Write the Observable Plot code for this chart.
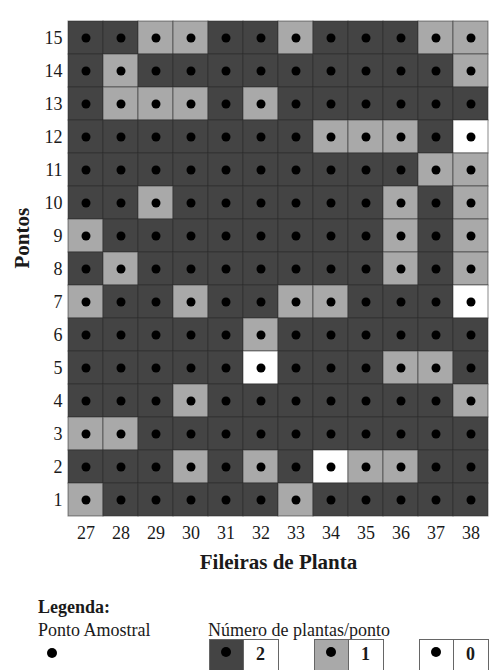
<!DOCTYPE html>
<html>
<head>
<meta charset="utf-8">
<script src="https://cdn.jsdelivr.net/npm/d3@7"></script>
<script src="https://cdn.jsdelivr.net/npm/@observablehq/plot@0.6"></script>
<style>
  body { margin: 0; background: #fff; }
  #wrap { position: relative; width: 489px; height: 670px; overflow: hidden; font-family: "Liberation Serif", "DejaVu Serif", serif; color: #1a1a1a; }
  .lg { position: absolute; font-size: 18px; line-height: 1; white-space: nowrap; }
  .box { position: absolute; box-sizing: border-box; border: 1px solid #666; height: 36px; top: 639px; }
  .dot { position: absolute; width: 10px; height: 10px; border-radius: 50%; background: #000; }
</style>
</head>
<body>
<div id="wrap"></div>
<script>
// Columns (plant rows) and sample points
const fileiras = [27, 28, 29, 30, 31, 32, 33, 34, 35, 36, 37, 38];
const pontos = [15, 14, 13, 12, 11, 10, 9, 8, 7, 6, 5, 4, 3, 2, 1];
// Number of plants per point, one row per "ponto" (15 down to 1), columns 27..38
const plantas = [
  [2,2,1,1,2,2,1,2,2,2,1,1], // 15
  [2,1,2,2,2,2,2,2,2,2,2,1], // 14
  [2,1,1,1,2,1,2,2,2,2,2,2], // 13
  [2,2,2,2,2,2,2,1,1,1,2,0], // 12
  [2,2,2,2,2,2,2,2,2,2,1,1], // 11
  [2,2,1,2,2,2,2,2,2,1,2,1], // 10
  [1,2,2,2,2,2,2,2,2,1,2,1], // 9
  [2,1,2,2,2,2,2,2,2,1,2,1], // 8
  [1,2,2,1,2,2,1,1,2,2,2,0], // 7
  [2,2,2,2,2,1,2,2,2,2,2,2], // 6
  [2,2,2,2,2,0,2,2,2,1,1,2], // 5
  [2,2,2,1,2,2,2,2,2,2,2,1], // 4
  [1,1,2,2,2,2,2,2,2,2,2,2], // 3
  [2,2,2,1,2,1,2,0,1,1,2,2], // 2
  [1,2,2,2,2,2,1,2,2,2,2,2]  // 1
];
const niveis = [2, 1, 0];
const cores = ["#444444", "#a9a9a9", "#ffffff"];

const cells = [];
pontos.forEach((p, i) => fileiras.forEach((f, j) => cells.push({fileira: f, ponto: p, n: plantas[i][j]})));

const chart = Plot.plot({
  width: 489,
  height: 580,
  marginTop: 17,
  marginLeft: 68,
  marginRight: 1,
  marginBottom: 61,
  style: {fontFamily: "Liberation Serif, serif", fontSize: "18px", color: "#1a1a1a", background: "#fff"},
  x: {type: "band", domain: fileiras, padding: 0, label: null},
  y: {type: "band", domain: pontos, padding: 0, label: null},
  color: {type: "ordinal", domain: niveis, range: cores},
  marks: [
    Plot.cell(cells, {x: "fileira", y: "ponto", fill: "n", stroke: "#2a2a2a", strokeOpacity: 0.55, strokeWidth: 1}),
    Plot.dot(cells, {x: "fileira", y: "ponto", r: 4.5, fill: "#000", stroke: "none"}),
    Plot.axisX({tickSize: 0, tickPadding: 7, label: null}),
    Plot.axisY({tickSize: 0, tickPadding: 6, label: null}),
    Plot.text(["Fileiras de Planta"], {frameAnchor: "bottom", dy: 49, fontWeight: "bold", fontSize: 21, fill: "#1a1a1a"}),
    Plot.text(["Pontos"], {frameAnchor: "left", dx: -46, rotate: -90, fontWeight: "bold", fontSize: 21, fill: "#1a1a1a"})
  ]
});

const wrap = document.getElementById("wrap");
wrap.appendChild(chart);

function addText(txt, left, top, bold) {
  const d = document.createElement("div");
  d.className = "lg";
  d.textContent = txt;
  d.style.left = left + "px";
  d.style.top = top + "px";
  if (bold) d.style.fontWeight = "bold";
  wrap.appendChild(d);
  return d;
}
function addBox(left, width, bg) {
  const d = document.createElement("div");
  d.className = "box";
  d.style.left = left + "px";
  d.style.width = width + "px";
  d.style.background = bg;
  wrap.appendChild(d);
  return d;
}
function addDot(cx, cy) {
  const d = document.createElement("div");
  d.className = "dot";
  d.style.left = (cx - 5) + "px";
  d.style.top = (cy - 5) + "px";
  wrap.appendChild(d);
}

addText("Legenda:", 38, 598, true);
addText("Ponto Amostral", 38, 621, false);
addDot(52, 653);
addText("Número de plantas/ponto", 208, 621, false);

const lx = [209, 314, 419];
niveis.forEach((v, i) => {
  addBox(lx[i], 35, cores[i]);
  addBox(lx[i] + 34, 36, "#ffffff");
  addDot(lx[i] + 17, 652);
  addText(String(v), lx[i] + 47, 645, true);
});
</script>
</body>
</html>
